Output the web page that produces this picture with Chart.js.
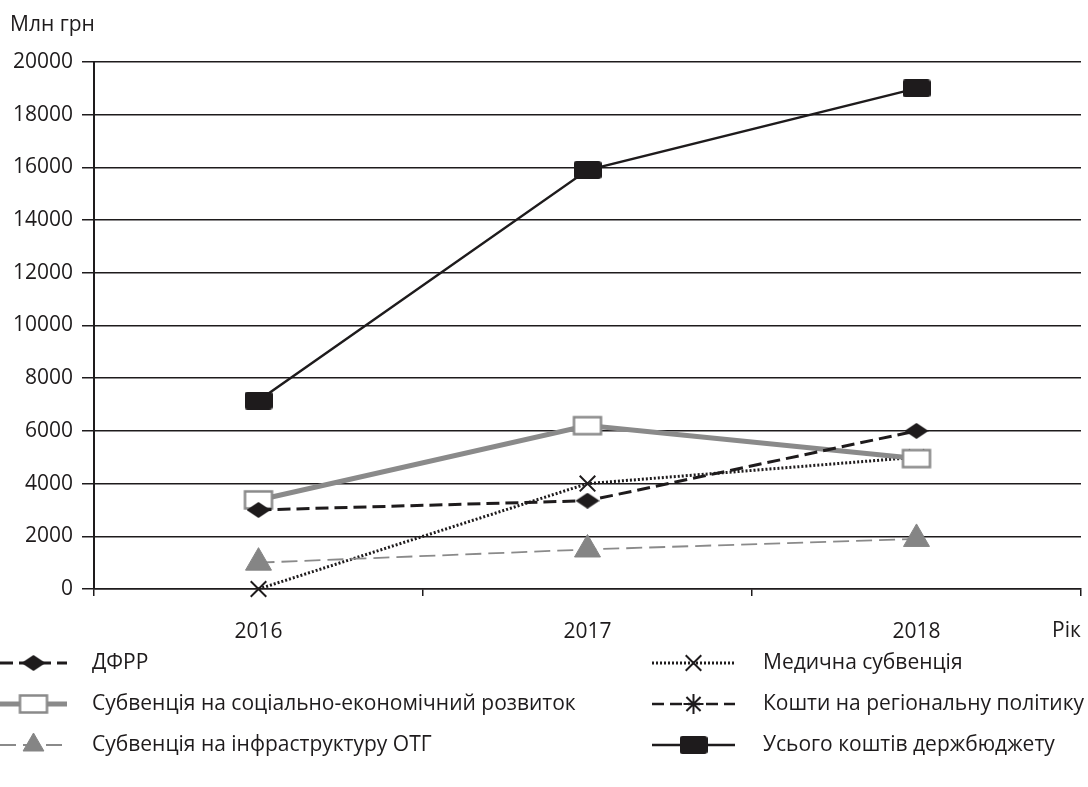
<!DOCTYPE html>
<html>
<head>
<meta charset="utf-8">
<script src="https://cdn.jsdelivr.net/npm/chart.js@4.4.0/dist/chart.umd.min.js"></script>
<style>
  html, body { margin: 0; padding: 0; background: #fff; overflow: hidden; }
  #wrap { width: 1088px; height: 787px; position: relative; }
  canvas { display: block; }
</style>
</head>
<body>
<div id="wrap"><canvas id="chart"></canvas></div>
<script>
// ── Data ──────────────────────────────────────────────────────────────────────
const years = ['2016', '2017', '2018'];
const dfrr      = [3000, 3350, 6000];
const socEcon   = [3380, 6200, 4950];
const infraOtg  = [1000, 1500, 1900];
const medical   = [0, 4000, 5000];
const regional  = [null, null, null];
const totalBudget = [7150, 15900, 19000];
const yMin = 0, yMax = 20000, yStep = 2000;

const FONT = "'Open Sans', sans-serif";
const FSIZE = 21;

// ── Marker images ─────────────────────────────────────────────────────────────
function boxImg(w, h, fill, stroke, lw, r) {
  const c = document.createElement('canvas');
  c.width = w + lw * 2; c.height = h + lw * 2;
  const g = c.getContext('2d');
  g.beginPath();
  g.roundRect(lw, lw, w, h, r);
  g.fillStyle = fill; g.fill();
  if (lw) { g.lineWidth = lw; g.strokeStyle = stroke; g.stroke(); }
  return c;
}
function diamondImg(w, h, fill) {
  const c = document.createElement('canvas');
  c.width = w; c.height = h;
  const g = c.getContext('2d');
  g.beginPath();
  g.moveTo(w / 2, 0); g.lineTo(w, h / 2); g.lineTo(w / 2, h); g.lineTo(0, h / 2);
  g.closePath();
  g.fillStyle = fill; g.fill();
  return c;
}
const openBox = boxImg(27, 17, '#fff', '#8a8a8a', 2.5, 0);
const solidBox = boxImg(28, 18, '#1e1b1c', '#1e1b1c', 0, 3);
const diamond = diamondImg(24, 16, '#1e1b1c');

const datasets = [
  { label: 'ДФРР', data: dfrr, borderColor: '#1e1b1c', borderWidth: 3, borderDash: [13, 6],
    pointStyle: diamond, pointRadius: 8, col: 0 },
  { label: 'Субвенція на соціально-економічний розвиток', data: socEcon, borderColor: '#8a8a8a', borderWidth: 5,
    pointStyle: openBox, pointRadius: 12, col: 0 },
  { label: 'Субвенція на інфраструктуру ОТГ', data: infraOtg, borderColor: '#8a8a8a', borderWidth: 1.8, borderDash: [16, 7],
    pointStyle: 'triangle', pointRadius: 15, pointBackgroundColor: '#858585', pointBorderColor: '#858585', pointBorderWidth: 1, col: 0 },
  { label: 'Медична субвенція', data: medical, borderColor: '#1e1b1c', borderWidth: 3, borderDash: [2, 2],
    pointStyle: 'crossRot', pointRadius: 11, pointBorderColor: '#1e1b1c', pointBorderWidth: 2, col: 1 },
  { label: 'Кошти на регіональну політику', data: regional, borderColor: '#1e1b1c', borderWidth: 2.5, borderDash: [12, 6],
    pointStyle: 'star', pointRadius: 10, pointBorderColor: '#1e1b1c', pointBorderWidth: 2, col: 1 },
  { label: 'Усього коштів держбюджету', data: totalBudget, borderColor: '#1e1b1c', borderWidth: 2.5,
    pointStyle: solidBox, pointRadius: 12, col: 1 },
];
datasets.forEach(d => { d.tension = 0; d.clip = false; d.fill = false; });

// ── Extras: axis captions and two-column legend ───────────────────────────────
const extras = {
  id: 'extras',
  afterDraw(chart) {
    const ctx = chart.ctx;
    const area = chart.chartArea;
    ctx.save();
    ctx.fillStyle = '#1e1b1c';
    ctx.font = FSIZE + 'px ' + FONT;
    ctx.textBaseline = 'middle';
    ctx.textAlign = 'left';
    ctx.fillText('Млн грн', 10, 25);
    ctx.fillText('Рік', area.right - 29, 631);

    const cols = [{ x0: 0, x1: 67, tx: 92 }, { x0: 652, x1: 735, tx: 763 }];
    const rowY = [663, 704, 745];
    const rowIdx = [0, 0];
    chart.data.datasets.forEach(ds => {
      const c = cols[ds.col];
      const y = rowY[rowIdx[ds.col]++];
      const r = Math.min(ds.pointRadius, 12);
      ctx.save();
      ctx.strokeStyle = ds.borderColor;
      ctx.lineWidth = ds.borderWidth;
      ctx.setLineDash(ds.borderDash || []);
      ctx.beginPath(); ctx.moveTo(c.x0, y); ctx.lineTo(c.x1, y); ctx.stroke();
      ctx.setLineDash([]);
      ctx.fillStyle = ds.pointBackgroundColor || '#fff';
      ctx.strokeStyle = ds.pointBorderColor || ds.borderColor;
      ctx.lineWidth = ds.pointBorderWidth || 1;
      Chart.helpers.drawPoint(ctx, { pointStyle: ds.pointStyle, radius: r, rotation: 0, borderWidth: ds.pointBorderWidth || 1 },
        (c.x0 + c.x1) / 2, y);
      ctx.restore();
      ctx.fillStyle = '#1e1b1c';
      ctx.fillText(ds.label, c.tx, y);
    });
    ctx.restore();
  }
};

new Chart(document.getElementById('chart'), {
  type: 'line',
  data: { labels: years, datasets },
  plugins: [extras],
  options: {
    responsive: true,
    maintainAspectRatio: false,
    animation: false,
    devicePixelRatio: 1,
    layout: { autoPadding: false, padding: { top: 62, right: 7, left: 0, bottom: 139 } },
    plugins: { legend: { display: false }, tooltip: { enabled: false } },
    scales: {
      x: {
        offset: true,
        grid: { offset: true, drawOnChartArea: false, drawTicks: true, tickLength: 7, color: '#1e1b1c', lineWidth: 1.5 },
        border: { color: '#1e1b1c', width: 1.5 },
        ticks: { color: '#1e1b1c', font: { family: FONT, size: FSIZE }, padding: 23, maxRotation: 0 },
        afterFit: s => { s.height = 59; s.paddingLeft = 0; s.paddingRight = 0; },
      },
      y: {
        min: yMin, max: yMax,
        grid: { color: '#1e1b1c', lineWidth: 1.5, tickLength: 12 },
        border: { color: '#1e1b1c', width: 2 },
        ticks: { stepSize: yStep, color: '#1e1b1c', font: { family: FONT, size: FSIZE }, padding: 9, callback: v => String(v) },
        afterFit: s => { s.width = 94; s.paddingTop = 0; s.paddingBottom = 0; },
      },
    },
  },
});
</script>
</body>
</html>
